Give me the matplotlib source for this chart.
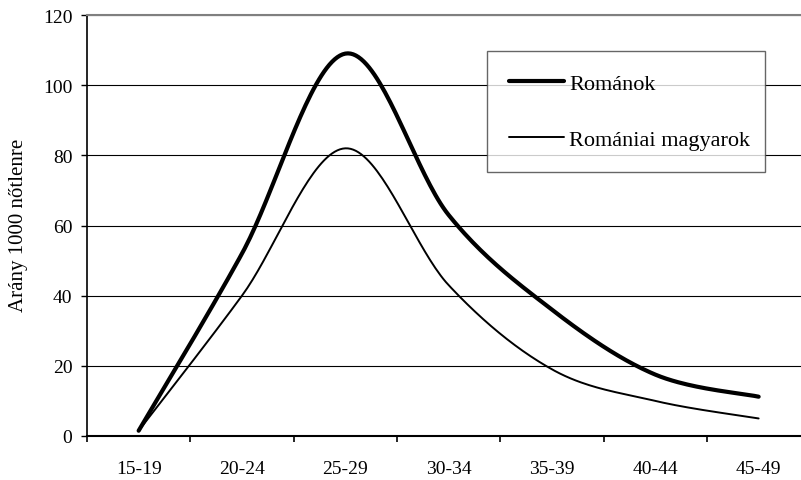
import numpy as np
import matplotlib
matplotlib.use("Agg")
import matplotlib.pyplot as plt

plt.rcParams['font.family'] = ['Liberation Serif', 'DejaVu Serif']

categories = ['15-19', '20-24', '25-29', '30-34', '35-39', '40-44', '45-49']
romanok = [1.5, 52, 109, 63, 36, 17.5, 11.2]
magyarok = [1.5, 40, 82, 43, 19, 10, 5]


def excel_smooth(ys, n=40):
    # Excel-style smoothing: Catmull-Rom cubic Bezier between points
    xs = np.arange(len(ys), dtype=float)
    pts = np.column_stack([xs, np.asarray(ys, dtype=float)])
    p = np.vstack([pts[0], pts, pts[-1]])
    out = []
    t = np.linspace(0, 1, n)[:, None]
    for i in range(1, len(p) - 2):
        p0, p1, p2, p3 = p[i - 1], p[i], p[i + 1], p[i + 2]
        c1 = p1 + (p2 - p0) / 6
        c2 = p2 - (p3 - p1) / 6
        seg = ((1 - t) ** 3) * p1 + 3 * ((1 - t) ** 2) * t * c1 + 3 * (1 - t) * t ** 2 * c2 + t ** 3 * p2
        out.append(seg if i == 1 else seg[1:])
    out = np.vstack(out)
    return out[:, 0], out[:, 1]


fig = plt.figure(figsize=(8.01, 4.81), dpi=100)
ax = fig.add_axes([0.1086, 0.0915, 0.903, 0.8752])

x1, y1 = excel_smooth(romanok)
x2, y2 = excel_smooth(magyarok)
ax.plot(x1, y1, color='black', lw=3.0, solid_capstyle='round', label='Románok', zorder=3)
ax.plot(x2, y2, color='black', lw=1.4, solid_capstyle='round', label='Romániai magyarok', zorder=3)

ax.set_xlim(-0.5, len(categories) - 0.5)
ax.set_ylim(0, 120)
ax.set_yticks(np.arange(0, 121, 20))
ax.yaxis.grid(True, color='black', lw=0.8)
ax.set_axisbelow(True)

ax.set_xticks(np.arange(len(categories)))
ax.set_xticklabels(categories)
ax.set_xticks(np.arange(-0.5, len(categories)), minor=True)
ax.tick_params(axis='x', which='major', length=0, pad=17.5, labelsize=14)
ax.tick_params(axis='x', which='minor', length=4.5, width=1.2, direction='out')
ax.tick_params(axis='y', length=4.5, width=1.0, pad=6, labelsize=14)

for s in ['left', 'bottom']:
    ax.spines[s].set_color('black')
ax.spines['left'].set_linewidth(1.2)
ax.spines['bottom'].set_linewidth(1.5)
ax.spines['top'].set_color('#808080')
ax.spines['top'].set_linewidth(1.5)
ax.spines['right'].set_visible(False)

ax.set_ylabel('Arány 1000 nőtlenre', fontsize=15)
ax.yaxis.set_label_coords(-0.081, 0.502)

leg = ax.legend(loc='upper left', bbox_to_anchor=(0.5534, 0.9138, 0.384, 0.0), mode='expand',
                fontsize=16, frameon=True, fancybox=False, edgecolor='#404040',
                handlelength=2.45, handletextpad=0.23, labelspacing=1.58, borderpad=1.0,
                borderaxespad=0)
leg.get_frame().set_linewidth(1.0)

fig.savefig('out.png', dpi=100)
